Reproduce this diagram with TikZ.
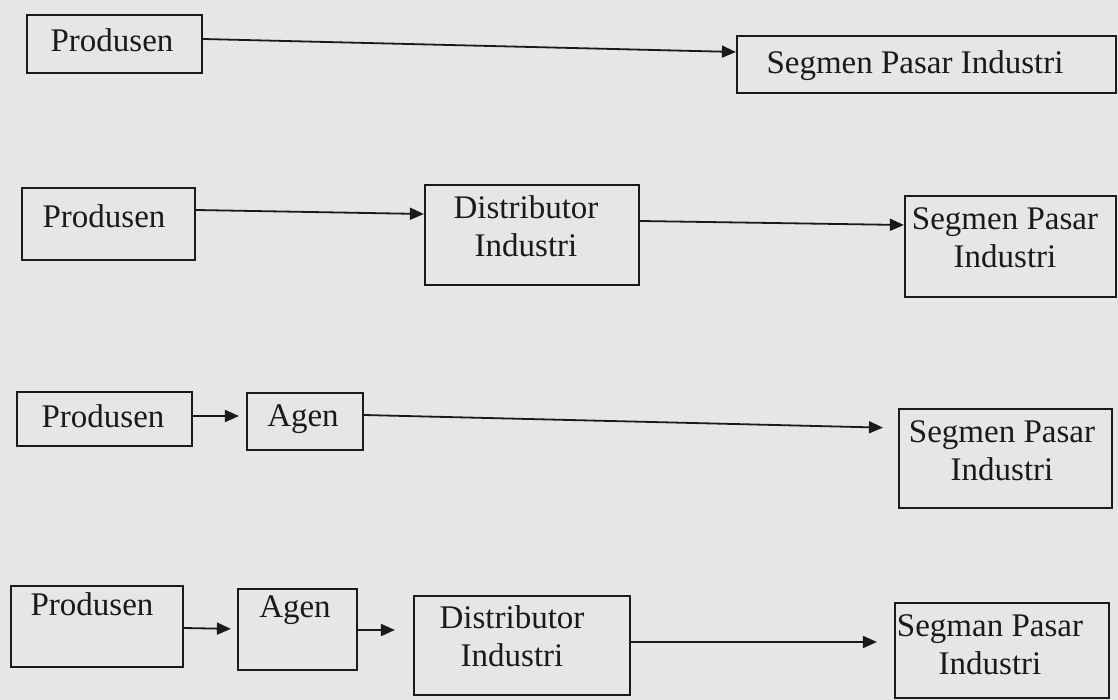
\documentclass[tikz,border=0pt]{standalone}
\usepackage{fontspec}
\setmainfont{Liberation Serif}
\usetikzlibrary{arrows.meta}
\definecolor{paper}{HTML}{E8E6E5}
\definecolor{ink}{HTML}{1A1A1A}
\begin{document}
\begin{tikzpicture}[x=1pt,y=-1pt,
  boxnode/.style={draw=ink, line width=2.2pt, inner sep=0pt, rectangle},
  lbl/.style={font=\fontsize{33}{38}\selectfont, text=ink, inner sep=0pt, anchor=north, align=center},
  flow/.style={draw=ink, line width=1.8pt, -{Triangle[length=14pt,width=12pt]}}]
\fill[paper] (0,0) rectangle (1118,700);
\useasboundingbox (0,0) rectangle (1118,700);
% Row 1
\node[boxnode, minimum width=175pt, minimum height=58pt] (p1) at (114.5,44) {};
\node[boxnode, minimum width=379pt, minimum height=57pt] (s1) at (926.5,64.5) {};
\node[lbl] (p1t) at (112,28) {Produsen};
\node[lbl] (s1t) at (915,50) {Segmen Pasar Industri};
\draw[flow] ([yshift=5pt]p1.east) -- ([yshift=12.5pt]s1.west);
% Row 2
\node[boxnode, minimum width=173pt, minimum height=72pt] (p2) at (108.5,224) {};
\node[boxnode, minimum width=214pt, minimum height=100pt] (d2) at (532,235) {};
\node[boxnode, minimum width=211pt, minimum height=101pt] (s2) at (1010.5,246.5) {};
\node[lbl] (p2t) at (104,204) {Produsen};
\node[lbl] (d2t) at (526,195) {Distributor\\Industri};
\node[lbl] (s2t) at (1005,207) {Segmen Pasar\\Industri};
\draw[flow] ([yshift=14pt]p2.east) -- ([yshift=21pt]d2.west);
\draw[flow] ([yshift=14pt]d2.east) -- ([yshift=21.5pt]s2.west);
% Row 3
\node[boxnode, minimum width=175pt, minimum height=54pt] (p3) at (104.5,419) {};
\node[boxnode, minimum width=116pt, minimum height=57pt] (a3) at (305,421.5) {};
\node[boxnode, minimum width=213pt, minimum height=99pt] (s3) at (1005.5,458.5) {};
\node[lbl] (p3t) at (103,404) {Produsen};
\node[lbl] (a3t) at (303,405) {Agen};
\node[lbl] (s3t) at (1002,420) {Segmen Pasar\\Industri};
\draw[flow, shorten >=7pt] ([yshift=3pt]p3.east) -- ([yshift=5.5pt]a3.west);
\draw[flow, shorten >=15pt] ([yshift=6.5pt]a3.east) -- ([yshift=30.5pt]s3.west);
% Row 4
\node[boxnode, minimum width=172pt, minimum height=81pt] (p4) at (97,626.5) {};
\node[boxnode, minimum width=119pt, minimum height=81pt] (a4) at (297.5,629.5) {};
\node[boxnode, minimum width=216pt, minimum height=99pt] (d4) at (522,645.5) {};
\node[boxnode, minimum width=214pt, minimum height=95pt] (s4) at (1002,650.5) {};
\node[lbl] (p4t) at (92,592) {Produsen};
\node[lbl] (a4t) at (295,596) {Agen};
\node[lbl] (d4t) at (512,605) {Distributor\\Industri};
\node[lbl] (s4t) at (990,614) {Segman Pasar\\Industri};
\draw[flow, shorten >=6pt] ([yshift=-1.5pt]p4.east) -- ([yshift=0.5pt]a4.west);
\draw[flow, shorten >=18pt] ([yshift=-0.5pt]a4.east) -- ([yshift=15.5pt]d4.west);
\draw[flow, shorten >=17pt] ([yshift=3.5pt]d4.east) -- ([yshift=8.5pt]s4.west);
\end{tikzpicture}
\end{document}
